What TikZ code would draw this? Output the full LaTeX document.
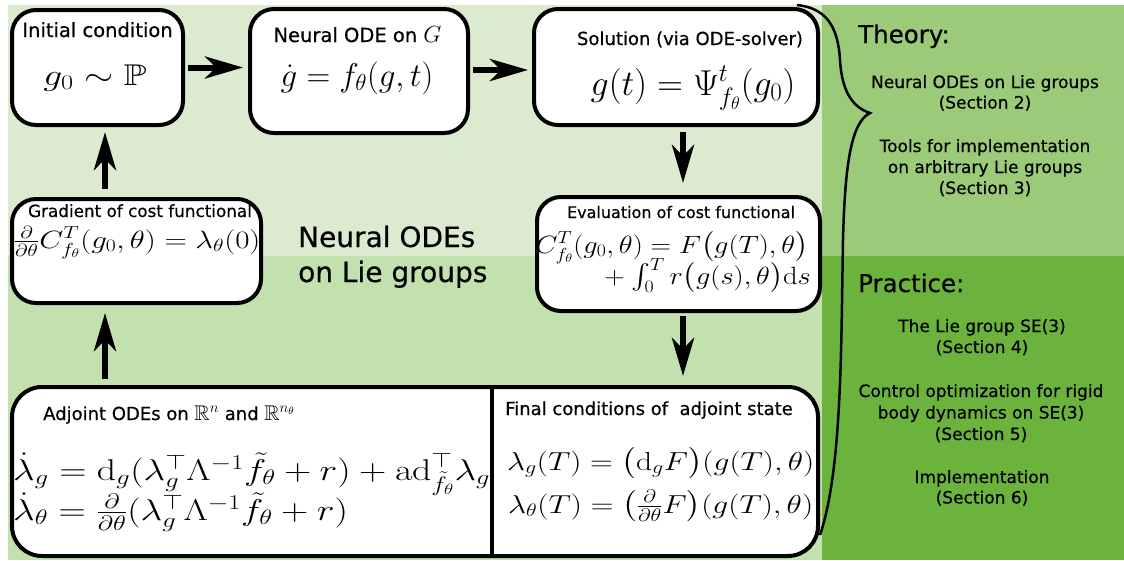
\RequirePackage{fix-cm}
\documentclass[tikz,border=0pt]{standalone}
\usepackage{amsmath,amssymb}
\usepackage{graphicx}
\usepackage[no-math]{fontspec}
\setmainfont{DejaVu Sans}[FakeBold=0.5]
\usetikzlibrary{arrows.meta}
\definecolor{bgTL}{RGB}{220,235,208}
\definecolor{bgBL}{RGB}{195,224,175}
\definecolor{bgTR}{RGB}{155,202,120}
\definecolor{bgBR}{RGB}{108,179,62}
\newcommand{\wide}[2]{\scalebox{#1}[1]{#2}}
\begin{document}
\begin{tikzpicture}[x=1pt,y=-1pt,
  box/.style={draw, line width=4pt, rounded corners=24pt, fill=white, inner sep=0pt},
  flow/.style={line width=6pt, -{Stealth[length=38pt,width=22pt,inset=11pt]}},
  lbl/.style={anchor=base, inner sep=0pt},
  lblw/.style={anchor=base west, inner sep=0pt},
  lble/.style={anchor=base east, inner sep=0pt},
  brace/.style={line width=2.5pt}
]
\useasboundingbox (0,0) rectangle (1124,560);
% backgrounds
\fill[bgTL] (8,5) rectangle (822,256);
\fill[bgBL] (8,256) rectangle (822,560);
\fill[bgTR] (822,5) rectangle (1124,256);
\fill[bgBR] (822,256) rectangle (1124,560);
% boxes
\node[box, minimum width=171pt, minimum height=115pt] (init) at (97.5,67.5) {};
\node[box, minimum width=218pt, minimum height=124pt] (ode) at (359,71) {};
\node[box, minimum width=284pt, minimum height=116pt] (sol) at (676,67) {};
\node[box, minimum width=283pt, minimum height=114pt] (eval) at (678.5,254) {};
\node[box, minimum width=249pt, minimum height=104pt] (grad) at (136.5,251) {};
\node[box, rounded corners=30pt, minimum width=806pt, minimum height=169pt] (adj) at (415,471.5) {};
\draw[line width=4pt] (492,387) -- (492,556);
% connectors
\coordinate (vx) at (683,0);
\coordinate (lx) at (105,0);
\draw[flow, shorten <=3pt, shorten >=5pt] (init.east) -- (init.east -| ode.west);
\draw[flow, shorten <=3pt, shorten >=4pt] (ode.east |- 0,70) -- (sol.west |- 0,70);
\draw[flow, shorten <=5pt, shorten >=12pt] (sol.south -| vx) -- (eval.north -| vx);
\draw[flow, shorten <=3pt, shorten >=9pt] (eval.south -| vx) -- (adj.north -| vx);
\draw[flow, shorten <=8pt, shorten >=5pt] (grad.north -| lx) -- (init.south -| lx);
\draw[flow, shorten <=6pt, shorten >=8pt] (adj.north -| lx) -- (grad.south -| lx);
% brace
\draw[brace] (797,5) .. controls (825,8) and (838,25) .. (840,60)
  .. controls (842,95) and (855,108) .. (870,113)
  .. controls (852,122) and (845,160) .. (843,240)
  .. controls (841,350) and (842,470) .. (820,535);
% box titles
\node[lbl, font=\fontsize{19.5}{23}\selectfont] (tinit) at (97.5,37) {Initial condition};
\node[lbl, font=\fontsize{19.5}{23}\selectfont] (tode) at (357.5,42) {Neural ODE on \scalebox{1.2}{$G$}};
\node[lbl, font=\fontsize{18}{22}\selectfont] (tsol) at (690,45) {Solution (via ODE-solver)};
\node[lbl, font=\fontsize{16.8}{20}\selectfont] (tgrad) at (140,217) {Gradient of cost functional};
\node[lbl, font=\fontsize{16}{20}\selectfont] (teval) at (681,218) {Evaluation of cost functional};
\node[lblw, font=\fontsize{18}{22}\selectfont] (tadj) at (43,420) {Adjoint ODEs on \scalebox{1.18}{$\mathbb{R}^n$} and \scalebox{1.18}{$\mathbb{R}^{n_\theta}$}};
\node[lblw, font=\fontsize{18}{22}\selectfont] (tfin) at (505,415) {Final conditions of\ \ adjoint state};
% formulas
\node[lbl, font=\fontsize{30}{36}\selectfont] (minit) at (95,85) {\wide{1.25}{$g_0\sim\mathbb{P}$}};
\node[lbl, font=\fontsize{33}{40}\selectfont] (mode) at (357,86) {$\dot g = f_\theta(g,t)$};
\node[lbl, font=\fontsize{36}{42}\selectfont] (msol) at (693,95) {$g(t)=\Psi^t_{f_\theta}(g_0)$};
\node[lbl, font=\fontsize{25}{30}\selectfont] (mgrad) at (137,248) {\wide{1.24}{$\frac{\partial}{\partial\theta}C^T_{f_\theta}(g_0,\theta)=\lambda_\theta(0)$}};
\node[lbl, font=\fontsize{25}{30}\selectfont] (meval1) at (672,253) {\wide{1.14}{$C^T_{f_\theta}(g_0,\theta) = F\bigl(g(T),\theta\bigr)$}};
\node[lble, font=\fontsize{25}{30}\selectfont] (meval2) at (811,284) {\wide{1.14}{${}+\int_0^T r\bigl(g(s),\theta\bigr)\mathrm{d}s$}};
\node[lblw, font=\fontsize{30}{36}\selectfont] (madj1) at (13,480) {\wide{1.26}{$\dot\lambda_g = \mathrm{d}_g(\lambda_g^\top\Lambda^{-1}\tilde f_\theta + r) + \mathrm{ad}^\top_{\tilde f_\theta}\lambda_g$}};
\node[lblw, font=\fontsize{30}{36}\selectfont] (madj2) at (13,520) {\wide{1.26}{$\dot\lambda_\theta = \frac{\partial}{\partial\theta}(\lambda_g^\top\Lambda^{-1}\tilde f_\theta + r)$}};
\node[lblw, font=\fontsize{26}{32}\selectfont] (mfin1) at (507,470) {\wide{1.21}{$\lambda_g(T) = \bigl(\mathrm{d}_gF\bigr)(g(T),\theta)$}};
\node[lblw, font=\fontsize{26}{32}\selectfont] (mfin2) at (508,513) {\wide{1.21}{$\lambda_\theta(T) = \bigl(\frac{\partial}{\partial\theta}F\bigr)(g(T),\theta)$}};
% centre label
\node[lblw, font=\fontsize{28}{35}\selectfont] (main1) at (298,247) {Neural ODEs};
\node[lblw, font=\fontsize{28}{35}\selectfont] (main2) at (298,282) {on Lie groups};
% right panel
\node[lblw, font=\fontsize{24.5}{29}\selectfont] (theory) at (858,43) {Theory:};
\node[lbl, font=\fontsize{17}{20.5}\selectfont] (th1) at (985,88) {\begin{tabular}[t]{@{}c@{}}Neural ODEs on Lie groups\\(Section 2)\end{tabular}};
\node[lbl, font=\fontsize{17}{21}\selectfont] (th2) at (985,152) {\begin{tabular}[t]{@{}c@{}}Tools for implementation\\on arbitrary Lie groups\\(Section 3)\end{tabular}};
\node[lblw, font=\fontsize{24.5}{29}\selectfont] (practice) at (858,292) {Practice:};
\node[lbl, font=\fontsize{17}{21}\selectfont] (pr1) at (982,332) {\begin{tabular}[t]{@{}c@{}}The Lie group SE(3)\\(Section 4)\end{tabular}};
\node[lbl, font=\fontsize{17}{21.5}\selectfont] (pr2) at (981,397) {\begin{tabular}[t]{@{}c@{}}Control optimization for rigid\\body dynamics on SE(3)\\(Section 5)\end{tabular}};
\node[lbl, font=\fontsize{17}{20.5}\selectfont] (pr3) at (982,483) {\begin{tabular}[t]{@{}c@{}}Implementation\\(Section 6)\end{tabular}};
\end{tikzpicture}
\end{document}
